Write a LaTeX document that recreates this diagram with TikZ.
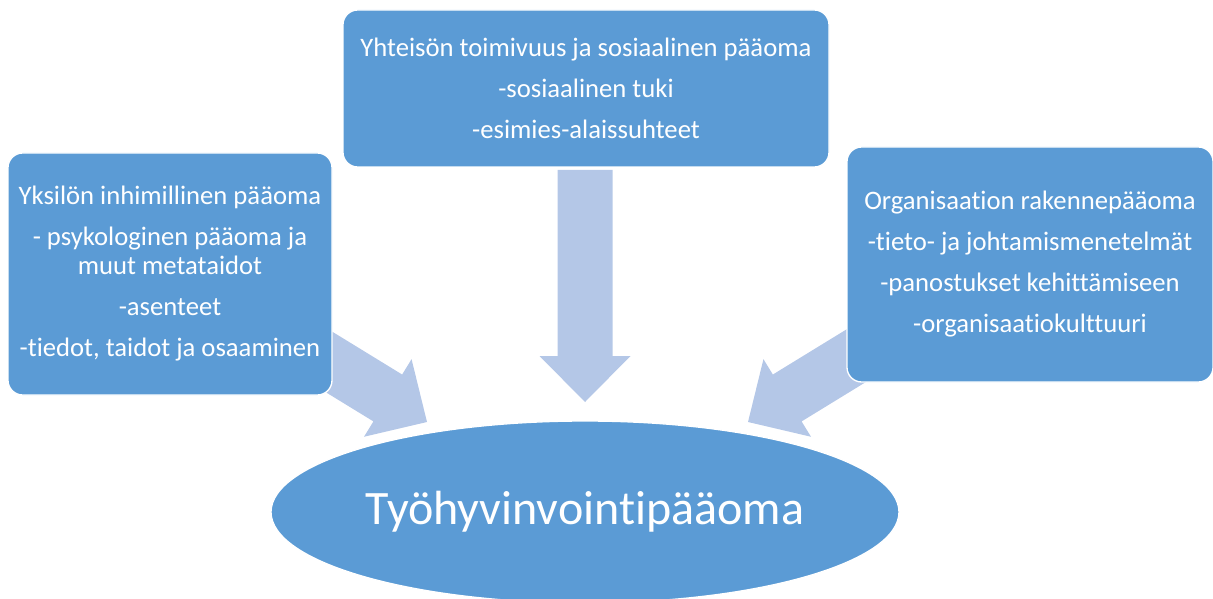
\documentclass[tikz,border=0pt]{standalone}
\usepackage{fontspec}
\setmainfont{Carlito}[Ligatures={NoCommon}]
\usetikzlibrary{calc,shapes.geometric}
\definecolor{boxblue}{HTML}{5B9BD5}
\definecolor{arrowblue}{HTML}{B4C7E7}
\tikzset{
  box/.style={draw=white, line width=1pt, fill=boxblue, rounded corners=11pt,
    text=white, align=center, inner sep=0pt,
    font=\fontsize{20}{21.75}\selectfont},
  goalshape/.style={ellipse, draw=white, line width=1pt, fill=boxblue,
    text=white, inner sep=0pt, font=\fontsize{36}{40}\selectfont},
  arrowfill/.style={fill=arrowblue}
}
% #1 tip coordinate, #2 direction from tip back to tail (pixel convention), #3 length
\newcommand\blockarrow[3]{%
  \fill[arrowfill] (#1)
    -- ($(#1)+(#2:46)+(#2+90:45.5)$)
    -- ($(#1)+(#2:46)+(#2+90:27.5)$)
    -- ($(#1)+(#2:#3)+(#2+90:27.5)$)
    -- ($(#1)+(#2:#3)+(#2-90:27.5)$)
    -- ($(#1)+(#2:46)+(#2-90:27.5)$)
    -- ($(#1)+(#2:46)+(#2-90:45.5)$)
    -- cycle;}
\begin{document}
\begin{tikzpicture}[x=0.75pt,y=-0.75pt]
\useasboundingbox (0,0) rectangle (1213,599);
% arrow tips
\coordinate (tipL) at (427,422);
\coordinate (tipM) at (585,402);
\coordinate (tipR) at (748,422);
\blockarrow{tipL}{211.5}{200}
\blockarrow{tipM}{270}{232}
\blockarrow{tipR}{328.5}{200}
% boxes
\node[box, minimum width=364.5pt, minimum height=117.75pt] (social) at (586,88.5)
  {Yhteisön toimivuus ja sosiaalinen pääoma\\[9pt]-sosiaalinen tuki\\[9pt]-esimies-alaissuhteet};
\node[box, minimum width=243pt, minimum height=181.5pt] (human) at (170,274)
  {Yksilön inhimillinen pääoma\\[9pt]- psykologinen pääoma ja\\muut metataidot\\[9pt]-asenteet\\[9pt]-tiedot, taidot ja osaaminen};
\node[box, minimum width=274.5pt, minimum height=176.25pt] (struct) at (1030,264.5)
  {Organisaation rakennepääoma\\[9pt]-tieto- ja johtamismenetelmät\\[9pt]-panostukset kehittämiseen\\[9pt]-organisaatiokulttuuri};
\node[goalshape, minimum width=471pt, minimum height=136.5pt] (goal) at (585,512)
  {Työhyvinvointipääoma};
\end{tikzpicture}
\end{document}
